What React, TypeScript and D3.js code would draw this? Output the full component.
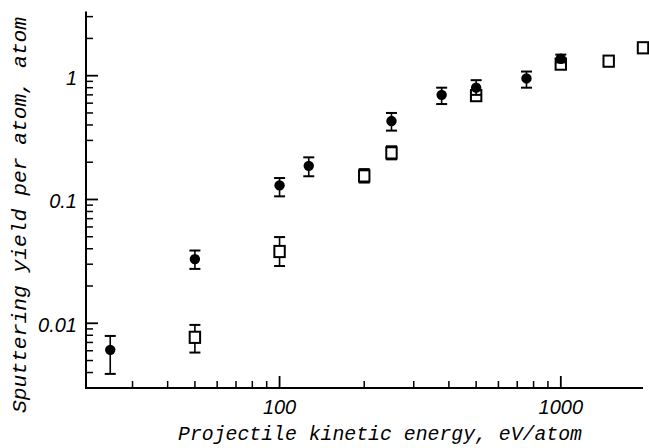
import React from "react";
import * as d3 from "d3";

// Axis limits
const xLimits = [20.5, 1960];
const yLimits = [0.003, 3.3];

// Tick labels
const xTickValues = [100, 1000];
const xTickLabels = ["100", "1000"];
const yTickValues = [0.01, 0.1, 1];
const yTickLabels = ["0.01", "0.1", "1"];

// Filled circles series
const circleE = [25, 50, 100, 127, 250, 377, 500, 755, 1000];
const circleY = [0.0061, 0.033, 0.13, 0.187, 0.43, 0.70, 0.80, 0.95, 1.37];
const circleLo = [0.0039, 0.0275, 0.106, 0.154, 0.36, 0.59, 0.70, 0.80, 1.28];
const circleHi = [0.0079, 0.0387, 0.149, 0.219, 0.50, 0.80, 0.92, 1.08, 1.48];

// Open squares series
const squareE = [50, 100, 200, 250, 500, 1000, 1480, 1960];
const squareY = [0.0077, 0.038, 0.155, 0.238, 0.69, 1.24, 1.31, 1.68];
const squareLo = [0.0058, 0.029, 0.137, 0.211, 0.69, 1.24, 1.31, 1.68];
const squareHi = [0.0097, 0.0497, 0.176, 0.269, 0.69, 1.24, 1.31, 1.68];

const xTitle = "Projectile kinetic energy, eV/atom";
const yTitle = "Sputtering yield per atom, atom";

export default function App() {
  const W = 649, H = 448;
  const x = d3.scaleLog().domain(xLimits).range([86, 643]);
  const y = d3.scaleLog().domain(yLimits).range([388, 11.5]);
  const x0 = x.range()[0];
  const y0 = y.range()[0];

  const minorTicks = (dom: number[]) => {
    const out: number[] = [];
    const lo = Math.floor(Math.log10(dom[0]));
    const hi = Math.ceil(Math.log10(dom[1]));
    for (let e = lo; e <= hi; e++) {
      for (let m = 2; m <= 9; m++) {
        const v = m * Math.pow(10, e);
        if (v >= dom[0] && v <= dom[1]) out.push(v);
      }
    }
    return out;
  };

  const xMinor = minorTicks(xLimits);
  const yMinor = minorTicks(yLimits);
  const cap = 5.5;

  const errBar = (xv: number, lo: number, hi: number, key: string) => {
    const px = x(xv);
    if (hi === lo) return null;
    return (
      <g key={key} stroke="#000">
        <line x1={px} x2={px} y1={y(hi)} y2={y(lo)} strokeWidth={1.6} />
        <line x1={px - cap} x2={px + cap} y1={y(hi)} y2={y(hi)} strokeWidth={2} />
        <line x1={px - cap} x2={px + cap} y1={y(lo)} y2={y(lo)} strokeWidth={2} />
      </g>
    );
  };

  return (
    <svg width={W} height={H} style={{ position: "absolute", left: 0, top: 0, background: "#fff" }}>
      <rect width={W} height={H} fill="#fff" />
      {/* axes */}
      <line x1={x0} x2={x0} y1={y.range()[1]} y2={y0 + 1} stroke="#000" strokeWidth={2} />
      <line x1={x0 - 1} x2={x.range()[1]} y1={y0} y2={y0} stroke="#000" strokeWidth={2} />
      {/* x ticks */}
      {xMinor.map((v, i) => (
        <line key={"xm" + i} x1={x(v)} x2={x(v)} y1={y0} y2={y0 - 7} stroke="#000" strokeWidth={1.5} />
      ))}
      {xTickValues.map((v, i) => (
        <g key={"xt" + i}>
          <line x1={x(v)} x2={x(v)} y1={y0} y2={y0 - 12} stroke="#000" strokeWidth={1.8} />
          <text x={x(v)} y={414} textAnchor="middle" fontFamily="Liberation Sans, Arial, sans-serif" fontStyle="italic" fontSize={20}>
            {xTickLabels[i]}
          </text>
        </g>
      ))}
      {/* y ticks */}
      {yMinor.map((v, i) => (
        <line key={"ym" + i} x1={x0} x2={x0 + 7} y1={y(v)} y2={y(v)} stroke="#000" strokeWidth={1.5} />
      ))}
      {yTickValues.map((v, i) => (
        <g key={"yt" + i}>
          <line x1={x0} x2={x0 + 12} y1={y(v)} y2={y(v)} stroke="#000" strokeWidth={1.8} />
          <text x={77} y={y(v) + 9} textAnchor="end" fontFamily="Liberation Sans, Arial, sans-serif" fontStyle="italic" fontSize={20}>
            {yTickLabels[i]}
          </text>
        </g>
      ))}
      {/* squares */}
      {squareE.map((e, i) => errBar(e, squareLo[i], squareHi[i], "se" + i))}
      {squareE.map((e, i) => (
        <rect key={"s" + i} x={x(e) - 5.2} y={y(squareY[i]) - 5.6} width={10.4} height={11.2} fill="#fff" stroke="#000" strokeWidth={2} />
      ))}
      {/* circles */}
      {circleE.map((e, i) => errBar(e, circleLo[i], circleHi[i], "ce" + i))}
      {circleE.map((e, i) => (
        <circle key={"c" + i} cx={x(e)} cy={y(circleY[i])} r={5.2} fill="#000" />
      ))}
      {/* titles */}
      <text x={380} y={440} textAnchor="middle" fontFamily="Liberation Mono, DejaVu Sans Mono, monospace" fontStyle="italic" fontSize={20} textLength={404} lengthAdjust="spacingAndGlyphs">
        {xTitle}
      </text>
      <text transform="translate(26,215) rotate(-90)" textAnchor="middle" fontFamily="Liberation Mono, DejaVu Sans Mono, monospace" fontStyle="italic" fontSize={21} textLength={396} lengthAdjust="spacingAndGlyphs">
        {yTitle}
      </text>
    </svg>
  );
}
